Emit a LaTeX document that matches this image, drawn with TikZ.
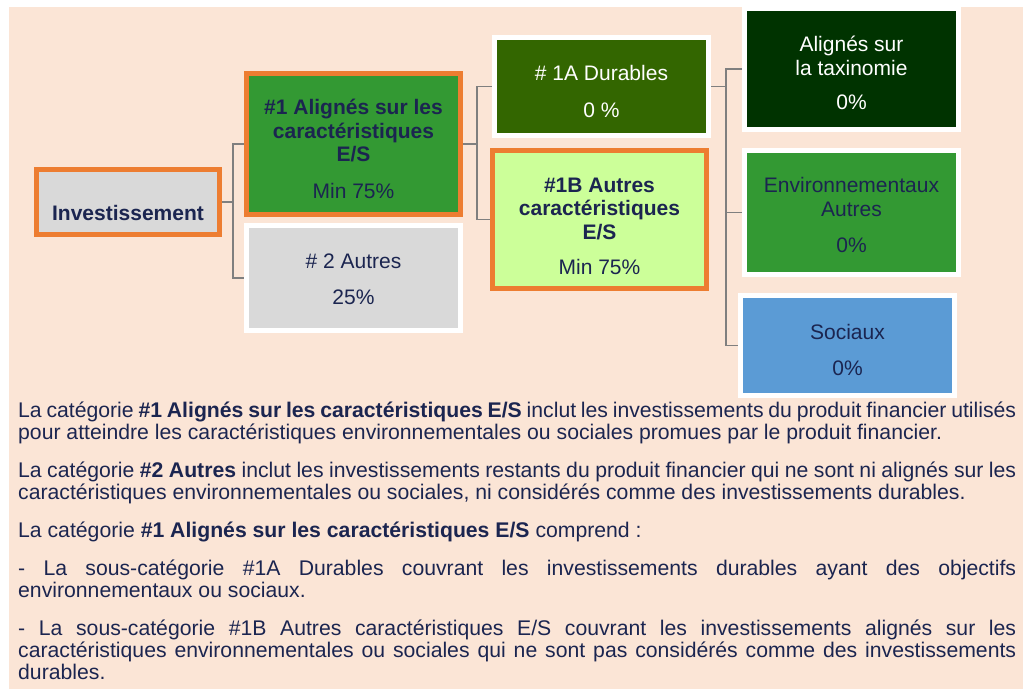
\documentclass[tikz,border=0pt]{standalone}
\usepackage{fontspec}
\setmainfont{Liberation Sans}
\usetikzlibrary{positioning}
\newcommand*{\lift}[1]{\rule{0pt}{#1}}
\definecolor{peach}{HTML}{FBE5D6}
\definecolor{accent}{HTML}{ED7D31}
\definecolor{navy}{HTML}{1B2550}
\definecolor{linkgray}{HTML}{7F7F7F}
\definecolor{midgreen}{HTML}{339933}
\definecolor{olivegreen}{HTML}{336600}
\definecolor{deepgreen}{HTML}{003300}
\definecolor{palegreen}{HTML}{CCFF99}
\definecolor{lightgray}{HTML}{D9D9D9}
\definecolor{skyblue}{HTML}{5B9BD5}
\tikzstyle{block} = [rectangle, line width=5pt, minimum width=214pt, align=center, inner sep=2pt, text=navy, font=\fontsize{21}{23.5}\selectfont]
\tikzstyle{marked} = [draw=accent, block]
\tikzstyle{plain} = [draw=white, block]
\tikzstyle{link} = [draw=linkgray, line width=1.5pt]
\tikzstyle{notes} = [text width=998pt, align=justify, inner sep=0pt, text=navy, font=\fontsize{21.2}{22}\selectfont]

\begin{document}
\begin{tikzpicture}[x=1pt, y=-1pt]
    % Background.
    \useasboundingbox (0,0) rectangle (1023,689);
    \fill [peach] (9,7) rectangle (1023,689);

    % Boxes.
    \node (invest) [marked, fill=lightgray, minimum width=183pt, minimum height=65pt] at (128,202) {\lift{37pt}\textbf{Investissement}};
    \node (cat1) [marked, fill=midgreen, minimum height=141pt] at (353.5,144) {\lift{25pt}\textbf{\#1 Alignés sur les}\\\textbf{caractéristiques}\\\textbf{E/S}\\[13pt]Min 75\%};
    \node (cat2) [plain, fill=lightgray, minimum height=105pt, below=6pt of cat1] {\lift{17pt}\# 2 Autres\\[12pt]25\%};

    \node (sub1A) [plain, fill=olivegreen, text=white, minimum height=98pt] at (601.5,86.5) {\lift{25pt}\# 1A Durables\\[13pt]0 \%};
    \node (sub1B) [marked, fill=palegreen, minimum height=138pt, below=10pt of sub1A, xshift=-2pt] {\lift{28pt}\textbf{\#1B Autres}\\\textbf{caractéristiques}\\\textbf{E/S}\\[12pt]Min 75\%};

    \node (taxo) [plain, fill=deepgreen, text=white, minimum height=121pt] at (851.5,69) {\lift{24pt}Alignés sur\\la taxinomie\\[11pt]0\%};
    \node (envir) [plain, fill=midgreen, minimum height=124pt, below=16pt of taxo] {\lift{21pt}Environnementaux\\Autres\\[13pt]0\%};
    \node (social) [plain, fill=skyblue, minimum height=100pt, below=16pt of envir, xshift=-4pt] {\lift{24pt}Sociaux\\[12pt]0\%};

    % Links.
    \foreach \b in {cat1, cat2} {
        \draw [link] (invest.east) -- ++(11pt,0) |- (\b.west);
    }
    \foreach \b in {sub1A, sub1B} {
        \draw [link] (cat1.east) -- ++(14pt,0) |- (\b.west);
    }
    \foreach \b in {taxo, envir, social} {
        \draw [link] (sub1A.east) -- ++(15pt,0) |- (\b.west);
    }

    % Notes.
    \node (legend) [notes, anchor=north west] at (18,402) {\hyphenpenalty=10000\relax
        La catégorie \textbf{\#1 Alignés sur les caractéristiques E/S} inclut les investissements du produit financier utilisés\linebreak
        pour atteindre les caractéristiques environnementales ou sociales promues par le produit financier.\\[16pt]
        La catégorie \textbf{\#2 Autres} inclut les investissements restants du produit financier qui ne sont ni alignés sur les\linebreak
        caractéristiques environnementales ou sociales, ni considérés comme des investissements durables.\\[16pt]
        La catégorie \textbf{\#1 Alignés sur les caractéristiques E/S} comprend~:\\[16pt]
        - La sous-catégorie \#1A Durables couvrant les investissements durables ayant des objectifs\linebreak
        environnementaux ou sociaux.\\[16pt]
        - La sous-catégorie \#1B Autres caractéristiques E/S couvrant les investissements alignés sur les\linebreak
        caractéristiques environnementales ou sociales qui ne sont pas considérés comme des investissements\linebreak
        durables.};
\end{tikzpicture}
\end{document}
